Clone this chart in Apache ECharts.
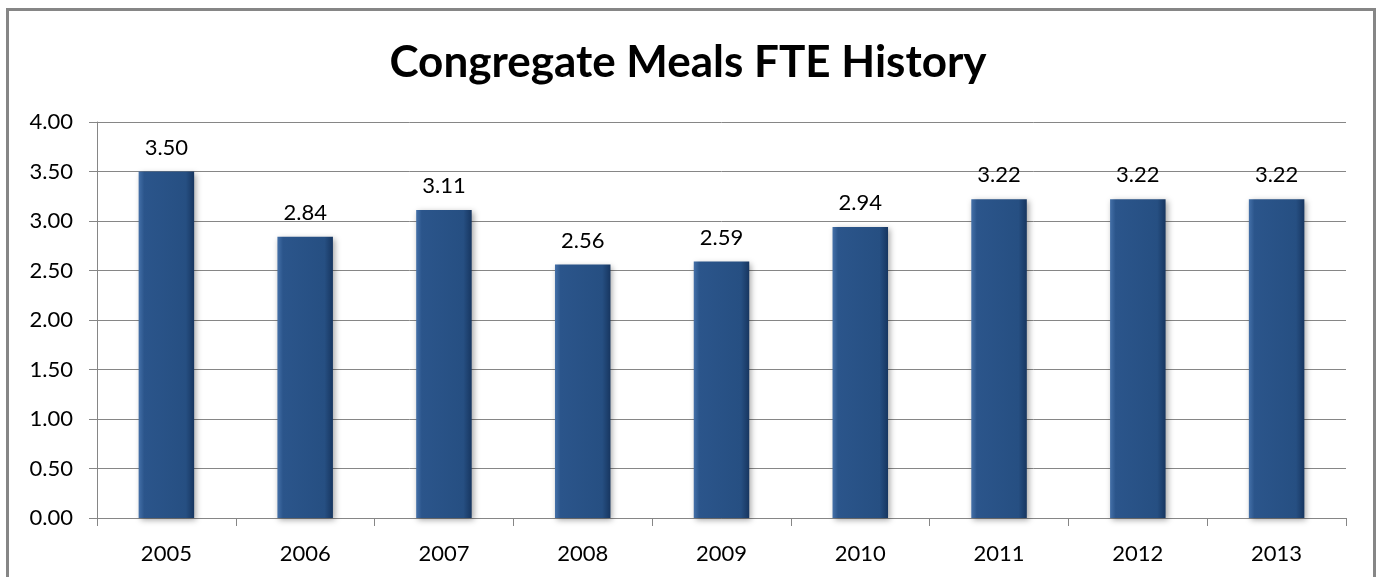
<!DOCTYPE html>
<html><head><meta charset="utf-8">
<script src="https://cdn.jsdelivr.net/npm/echarts@6/dist/echarts.min.js"></script>
<style>html,body{margin:0;padding:0;background:#fff;overflow:hidden}#c{width:1376px;height:577px}
#frame{position:absolute;left:6px;top:8px;width:1370px;height:580px;border:3px solid #868686;box-sizing:border-box;pointer-events:none}</style>
</head><body><div id="c"></div><div id="frame"></div>
<script>
const title = 'Congregate Meals FTE History';
const categories = ['2005','2006','2007','2008','2009','2010','2011','2012','2013'];
const values = [3.50, 2.84, 3.11, 2.56, 2.59, 2.94, 3.22, 3.22, 3.22];
const chart = echarts.init(document.getElementById('c'));
const font = 'Lato, "Open Sans", sans-serif';
chart.setOption({
  animation: false,
  title: {text: title, left: 'center', top: 36, textStyle: {fontFamily: font, fontSize: 44, fontWeight: 'bold', color: '#000'}},
  grid: {left: 97, right: 30, top: 122, bottom: 59, containLabel: false},
  xAxis: {type: 'category', data: categories,
    axisLine: {lineStyle: {color: '#868686', width: 1}},
    axisTick: {show: true, length: 8, lineStyle: {color: '#868686'}},
    axisLabel: {color: '#000', fontFamily: font, fontSize: 22, margin: 25}},
  yAxis: {type: 'value', min: 0, max: 4, interval: 0.5,
    axisLine: {show: true, lineStyle: {color: '#868686'}},
    axisTick: {show: true, length: 8, lineStyle: {color: '#868686'}},
    splitLine: {lineStyle: {color: '#868686', width: 1}},
    axisLabel: {color: '#000', fontFamily: font, fontSize: 22, margin: 24, formatter: v => v.toFixed(2)}},
  series: [{type: 'bar', data: values, barWidth: '40%',
    itemStyle: {
      color: new echarts.graphic.LinearGradient(0, 0, 1, 0, [
        {offset: 0, color: '#4470A8'}, {offset: 0.1, color: '#2B558B'},
        {offset: 0.85, color: '#264F82'}, {offset: 1, color: '#173660'}]),
      shadowColor: 'rgba(0,0,0,0.35)', shadowBlur: 6, shadowOffsetX: 2, shadowOffsetY: 2},
    label: {show: true, position: 'top', distance: 13, color: '#000', fontFamily: font, fontSize: 22, formatter: p => p.value.toFixed(2)}
  }]
});
</script></body></html>
